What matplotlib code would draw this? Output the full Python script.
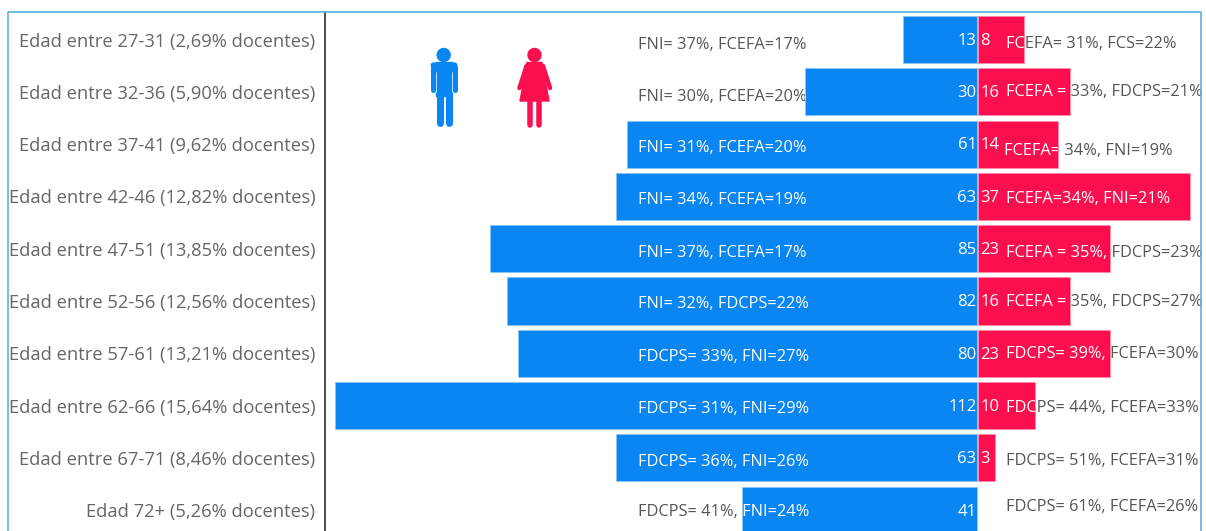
import matplotlib
matplotlib.use('Agg')
import matplotlib.pyplot as plt
from matplotlib.patches import Rectangle, Circle, Polygon
from matplotlib.transforms import Affine2D, Bbox, TransformedBbox

plt.rcParams['font.family'] = ['Open Sans', 'DejaVu Sans']

edades = ['Edad entre 27-31 (2,69% docentes)', 'Edad entre 32-36 (5,90% docentes)',
          'Edad entre 37-41 (9,62% docentes)', 'Edad entre 42-46 (12,82% docentes)',
          'Edad entre 47-51 (13,85% docentes)', 'Edad entre 52-56 (12,56% docentes)',
          'Edad entre 57-61 (13,21% docentes)', 'Edad entre 62-66 (15,64% docentes)',
          'Edad entre 67-71 (8,46% docentes)', 'Edad 72+ (5,26% docentes)']
hombres = [13, 30, 61, 63, 85, 82, 80, 112, 63, 41]
mujeres = [8, 16, 14, 37, 23, 16, 23, 10, 3, 0]
texto_h = ['FNI= 37%, FCEFA=17%', 'FNI= 30%, FCEFA=20%', 'FNI= 31%, FCEFA=20%',
           'FNI= 34%, FCEFA=19%', 'FNI= 37%, FCEFA=17%', 'FNI= 32%, FDCPS=22%',
           'FDCPS= 33%, FNI=27%', 'FDCPS= 31%, FNI=29%', 'FDCPS= 36%, FNI=26%',
           'FDCPS= 41%, FNI=24%']
texto_m = ['FCEFA= 31%, FCS=22%', 'FCEFA = 33%, FDCPS=21%', 'FCEFA= 34%, FNI=19%',
           'FCEFA=34%, FNI=21%', 'FCEFA = 35%, FDCPS=23%', 'FCEFA = 35%, FDCPS=27%',
           'FDCPS= 39%, FCEFA=30%', 'FDCPS= 44%, FCEFA=33%', 'FDCPS= 51%, FCEFA=31%',
           'FDCPS= 61%, FCEFA=26%']

# layout in pixels of the image
y_texto_h = [45, 97, 148, 200, 253, 304, 357, 409, 462, 512]
y_texto_m = [44, 92, 151, 199, 253, 302, 354, 408, 461, 507]
x_texto_m = [1006, 1006, 1004, 1006, 1006, 1006, 1006, 1006, 1006, 1006]

azul = '#0A86F2'
rosa = '#FB0F4E'
gris = '#555555'
borde = '#5CB0E0'

W, H = 1206, 531
x0, escala = 978, 5.74
y0, paso = 39.5, 52.3

fig = plt.figure(figsize=(W/100, H/100), dpi=100)
ax = fig.add_axes([8/W, 0, (1201-8)/W, (531-12)/H])
ax.set_xlim((8-x0)/escala, (1201-x0)/escala)
ax.set_ylim((531-y0)/paso, (12-y0)/paso)

pix = Affine2D().scale(1, -1).translate(0, H)

pos = list(range(len(edades)))
bars_h = ax.barh(pos, [-v for v in hombres], height=0.9, left=-0.1, color=azul, edgecolor='#8CC4F6', linewidth=0.4, zorder=2)
bars_m = ax.barh(pos, mujeres, height=0.9, color=rosa, edgecolor='#FD8CA8', linewidth=0.4, zorder=2)
for b in bars_m:
    if b.get_width() == 0:
        b.set_visible(False)

# axis line and category labels
for s in ['top', 'right', 'bottom']:
    ax.spines[s].set_visible(False)
ax.spines['left'].set_position(('data', (325-x0)/escala))
ax.spines['left'].set_color(gris)
ax.spines['left'].set_linewidth(1.5)
ax.set_xticks([])
ax.set_yticks(pos)
ax.set_yticklabels(edades, fontsize=13.2, color='#666666', va='center_baseline')
ax.tick_params(axis='y', length=0, pad=7)

# counts
for i in pos:
    ax.text(-0.25, i+0.025, str(hombres[i]), ha='right', va='center', color='white', fontsize=12, zorder=4)
    if mujeres[i] > 0:
        ax.text(0.4, i+0.025, str(mujeres[i]), ha='left', va='center', color='white', fontsize=12, zorder=4)


# text is dark under the bar and white where the bar covers it
def rotulo(x, y, s, bar):
    ax.text(x, y, s, transform=pix, ha='left', va='center', color=gris, fontsize=11.8,
            zorder=1, clip_on=False)
    t = ax.text(x, y, s, transform=pix, ha='left', va='center', color='white', fontsize=11.8,
                zorder=3, clip_on=True)
    b = bar.get_bbox()
    caja = Bbox.from_extents(min(b.x0, b.x1), min(b.y0, b.y1), max(b.x0, b.x1), max(b.y0, b.y1))
    t.set_clip_box(TransformedBbox(caja, ax.transData))


for i in pos:
    rotulo(638, y_texto_h[i], texto_h[i], bars_h[i])
    rotulo(x_texto_m[i], y_texto_m[i], texto_m[i], bars_m[i])


# icons
def linea(xs, ys, color, ancho, z=5):
    ax.plot(xs, ys, transform=pix, color=color, lw=ancho*0.72, solid_capstyle='round',
            clip_on=False, zorder=z)


ax.add_patch(Circle((443.7, 55), 6.5, color=azul, transform=pix, clip_on=False, zorder=5))
ax.add_patch(Rectangle((436, 62), 16, 34, color=azul, transform=pix, clip_on=False, zorder=5))
linea([433, 433], [67, 90], azul, 5)
linea([455, 455], [67, 90], azul, 5)
linea([433, 438], [65, 64.5], azul, 5)
linea([455, 450], [65, 64.5], azul, 5)
linea([436.3, 436.3], [72, 92], 'white', 0.7, 6)
linea([451.6, 451.6], [72, 92], 'white', 0.7, 6)
linea([440, 440], [92, 123], azul, 7)
linea([448.5, 448.5], [92, 123], azul, 7)

ax.add_patch(Circle((534.5, 55), 6.5, color=rosa, transform=pix, clip_on=False, zorder=5))
ax.add_patch(Polygon([(527, 62.5), (542, 62.5), (549, 101), (520, 101)], color=rosa,
                     transform=pix, clip_on=False, zorder=5))
linea([526.5, 519.5], [66, 88], rosa, 4.5)
linea([543, 550], [66, 88], rosa, 4.5)
linea([530, 530], [100, 125], rosa, 5.5)
linea([539, 539], [100, 125], rosa, 5.5)

# chart frame, open at the bottom where the image is cut
fig.add_artist(plt.Line2D([8/W, 8/W, 1201/W, 1201/W], [0, 1-12/H, 1-12/H, 0], color=borde, lw=1.2))

fig.savefig('out.png', dpi=100)
